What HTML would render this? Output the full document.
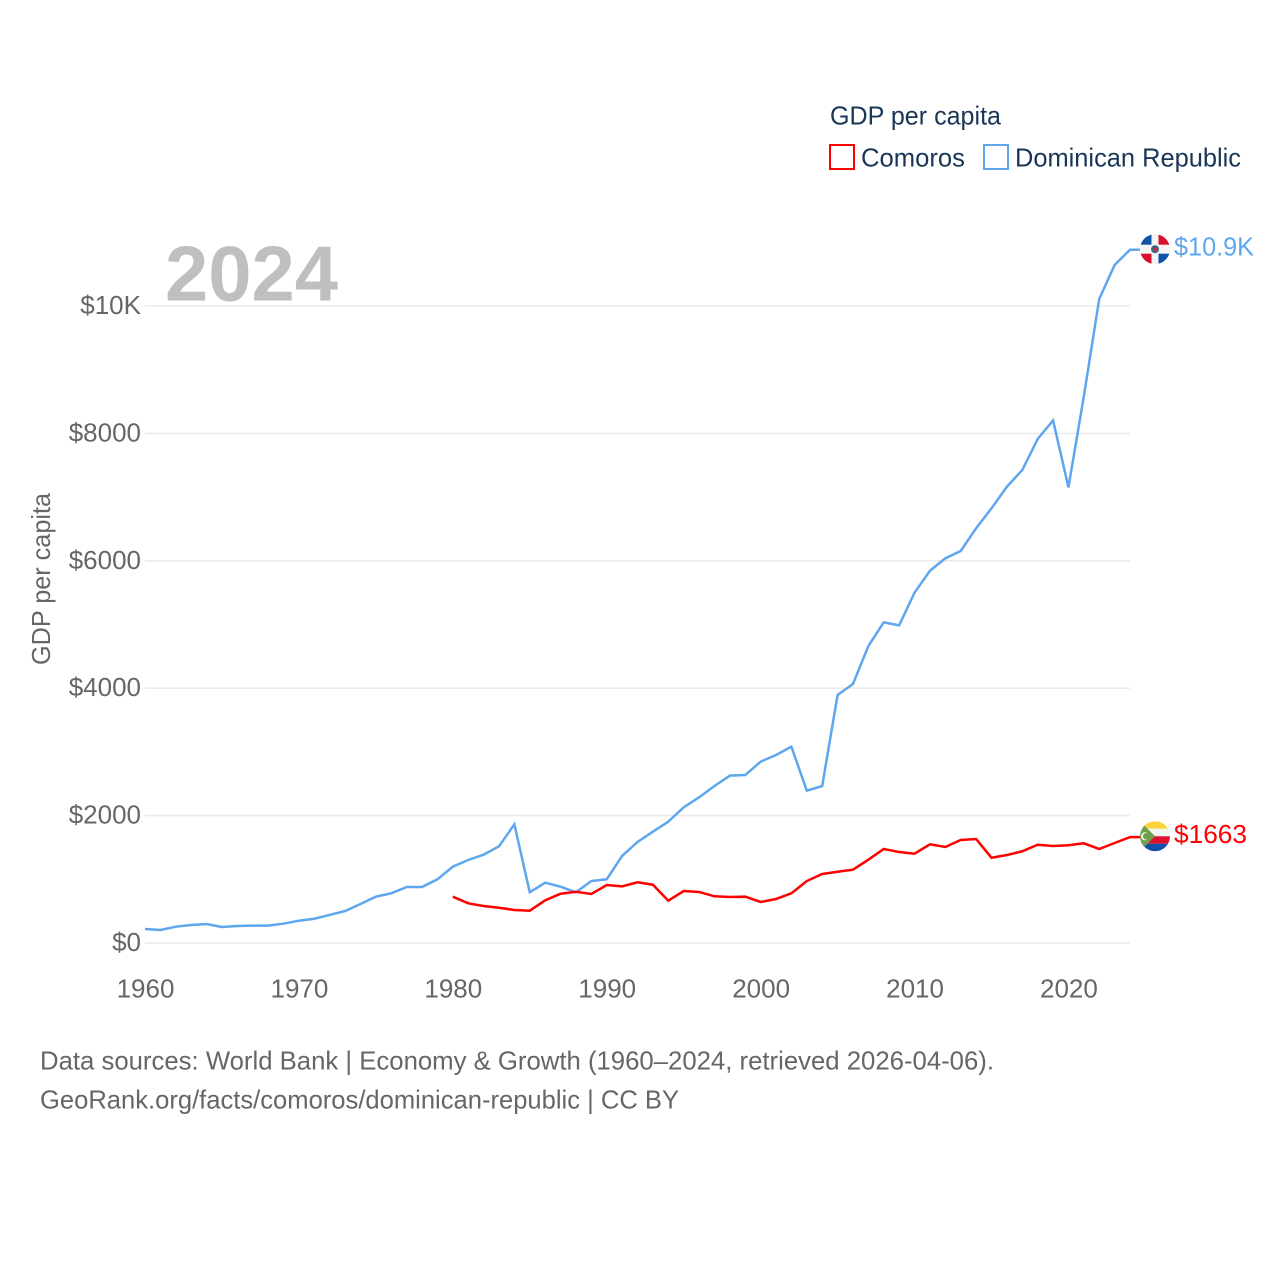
<!DOCTYPE html>
<html lang="en">
<head>
<meta charset="utf-8">
<title>GDP per capita: Comoros and Dominican Republic</title>
<style>
html,body{margin:0;padding:0;background:#fff;}
svg{display:block;}
text{font-family:"Liberation Sans",sans-serif;}
</style>
</head>
<body>
<svg id="chart" width="1280" height="1280" viewBox="0 0 1280 1280" xmlns="http://www.w3.org/2000/svg">
  <defs>
    <clipPath id="flag-clip"><circle cx="0" cy="0" r="15"/></clipPath>
  </defs>
  <rect x="0" y="0" width="1280" height="1280" fill="#ffffff"/>

  <g id="grid"></g>
  <g id="yticks"></g>
  <g id="xticks"></g>

  <text x="165" y="300.5" font-size="78" font-weight="700" fill="#bfbfbf" textLength="173" lengthAdjust="spacingAndGlyphs">2024</text>

  <text transform="translate(50,665) rotate(-90)" font-size="26" fill="#666666" textLength="172" lengthAdjust="spacingAndGlyphs">GDP per capita</text>

  <g id="series"></g>

  <g id="flag-dr">
    <g clip-path="url(#flag-clip)">
      <rect x="-15" y="-15" width="30" height="30" fill="#f4f4f4"/>
      <rect x="-15" y="-15" width="11.5" height="10.5" fill="#0f53a8"/>
      <rect x="3.5" y="-15" width="11.5" height="10.5" fill="#d8102e"/>
      <rect x="-15" y="4.5" width="11.5" height="10.5" fill="#d8102e"/>
      <rect x="3.5" y="4.5" width="11.5" height="10.5" fill="#0f53a8"/>
      <circle cx="0" cy="0" r="4" fill="#2f6a86"/>
      <circle cx="0" cy="0" r="2" fill="#c8303a"/>
    </g>
  </g>

  <g id="flag-km">
    <g clip-path="url(#flag-clip)">
      <rect x="-15" y="-15" width="30" height="7.5" fill="#fcd53c"/>
      <rect x="-15" y="-7.5" width="30" height="7.5" fill="#f4f4f4"/>
      <rect x="-15" y="0" width="30" height="7.5" fill="#e01030"/>
      <rect x="-15" y="7.5" width="30" height="7.5" fill="#0f50ae"/>
      <polygon points="-15,-15 0,0 -15,15" fill="#6fa04a"/>
      <circle cx="-10" cy="0" r="4" fill="#f4f4f4"/>
      <circle cx="-8.6" cy="0" r="3.4" fill="#6fa04a"/>
    </g>
  </g>

  <text id="label-dr" x="1174" font-size="26" fill="#5ea6ee" textLength="80" lengthAdjust="spacingAndGlyphs">$10.9K</text>
  <text id="label-km" x="1174" font-size="26" fill="#ff0000" textLength="73" lengthAdjust="spacingAndGlyphs">$1663</text>

  <g>
    <text x="830" y="124.5" font-size="26" fill="#1a3556" textLength="171" lengthAdjust="spacingAndGlyphs">GDP per capita</text>
    <g>
      <rect x="830" y="145" width="24" height="24" fill="#ffffff" stroke="#ff0000" stroke-width="2"/>
      <text x="861" y="166.5" font-size="26" fill="#1a3556" textLength="104" lengthAdjust="spacingAndGlyphs">Comoros</text>
    </g>
    <g>
      <rect x="984" y="145" width="24" height="24" fill="#ffffff" stroke="#5ea6ee" stroke-width="2"/>
      <text x="1015" y="166.5" font-size="26" fill="#1a3556" textLength="226" lengthAdjust="spacingAndGlyphs">Dominican Republic</text>
    </g>
  </g>

  <g>
    <text x="40" y="1069.5" font-size="26" fill="#666666" textLength="954" lengthAdjust="spacingAndGlyphs">Data sources: World Bank | Economy &amp; Growth (1960–2024, retrieved 2026-04-06).</text>
    <text x="40" y="1108.5" font-size="26" fill="#666666" textLength="639" lengthAdjust="spacingAndGlyphs">GeoRank.org/facts/comoros/dominican-republic | CC BY</text>
  </g>
</svg>

<script>
const years = [1960,1961,1962,1963,1964,1965,1966,1967,1968,1969,1970,1971,1972,1973,1974,1975,1976,1977,1978,1979,1980,1981,1982,1983,1984,1985,1986,1987,1988,1989,1990,1991,1992,1993,1994,1995,1996,1997,1998,1999,2000,2001,2002,2003,2004,2005,2006,2007,2008,2009,2010,2011,2012,2013,2014,2015,2016,2017,2018,2019,2020,2021,2022,2023,2024];
const dominicanValues = [220,204,256,283,298,251,267,272,272,303,350,381,440,502,612,727,780,879,879,1000,1198,1303,1386,1518,1863,796,947,884,796,973,1000,1366,1586,1748,1905,2130,2287,2465,2627,2637,2847,2951,3082,2391,2465,3893,4066,4662,5034,4987,5499,5844,6039,6154,6510,6824,7163,7425,7912,8205,7154,8580,10110,10644,10884];
const comorosYears = [1980,1981,1982,1983,1984,1985,1986,1987,1988,1989,1990,1991,1992,1993,1994,1995,1996,1997,1998,1999,2000,2001,2002,2003,2004,2005,2006,2007,2008,2009,2010,2011,2012,2013,2014,2015,2016,2017,2018,2019,2020,2021,2022,2023,2024];
const comorosValues = [727,623,581,554,518,507,670,774,805,769,910,890,953,915,664,816,801,733,722,727,644,691,780,973,1083,1119,1151,1308,1476,1428,1402,1549,1507,1617,1633,1339,1381,1440,1543,1523,1534,1565,1476,1570,1663];
const yTickValues = [0,2000,4000,6000,8000,10000];
const yTickLabels = ['$0','$2000','$4000','$6000','$8000','$10K'];
const xTickValues = [1960,1970,1980,1990,2000,2010,2020];

const SVG_NS = 'http://www.w3.org/2000/svg';
const plotLeft = 145, plotRight = 1130, plotBottom = 943, plotTop = 306;
const lineEndX = 1140;

function xScale(year) {
  return plotLeft + (year - 1960) * (plotRight - plotLeft) / (2024 - 1960);
}
function yScale(value) {
  return plotBottom - value * (plotBottom - plotTop) / 10000;
}
function make(tag, attrs, parent) {
  const el = document.createElementNS(SVG_NS, tag);
  for (const key in attrs) el.setAttribute(key, attrs[key]);
  parent.appendChild(el);
  return el;
}

const grid = document.getElementById('grid');
const yticks = document.getElementById('yticks');
const xticks = document.getElementById('xticks');
const series = document.getElementById('series');

yTickValues.forEach(function (value, i) {
  const line = make('line', {x1: plotLeft, x2: plotRight, y1: yScale(value), y2: yScale(value), stroke: '#ebebeb', 'stroke-width': 1.6}, grid);
  
  
  const label = make('text', {x: 141, y: yScale(value) + 8, 'text-anchor': 'end', 'font-size': 26, fill: '#666666'}, yticks);
  
  
  label.textContent = yTickLabels[i];
});

xTickValues.forEach(function (year) {
  const label = make('text', {x: xScale(year) + 0.5, y: 997.5, 'text-anchor': 'middle', 'font-size': 26, fill: '#666666'}, xticks);
  
  
  label.textContent = String(year);
});

function linePoints(xs, vs) {
  const pts = xs.map(function (year, i) {
    return xScale(year).toFixed(2) + ',' + yScale(vs[i]).toFixed(2);
  });
  pts.push(lineEndX + ',' + yScale(vs[vs.length - 1]).toFixed(2));
  return pts.join(' ');
}

const domLine = make('polyline', {points: linePoints(years, dominicanValues), fill: 'none', stroke: '#5ea6ee', 'stroke-width': 2.5, 'stroke-linejoin': 'miter'}, series);



const comLine = make('polyline', {points: linePoints(comorosYears, comorosValues), fill: 'none', stroke: '#ff0000', 'stroke-width': 2.5, 'stroke-linejoin': 'miter'}, series);



const domEndY = yScale(dominicanValues[dominicanValues.length - 1]);
const comEndY = yScale(comorosValues[comorosValues.length - 1]);
document.getElementById('flag-dr').setAttribute('transform', 'translate(1155,' + (domEndY - 0.5).toFixed(2) + ')');
document.getElementById('flag-km').setAttribute('transform', 'translate(1155,' + (comEndY - 0.8).toFixed(2) + ')');
document.getElementById('label-dr').setAttribute('y', (domEndY + 6).toFixed(2));
document.getElementById('label-km').setAttribute('y', (comEndY + 6).toFixed(2));
</script>
</body>
</html>
